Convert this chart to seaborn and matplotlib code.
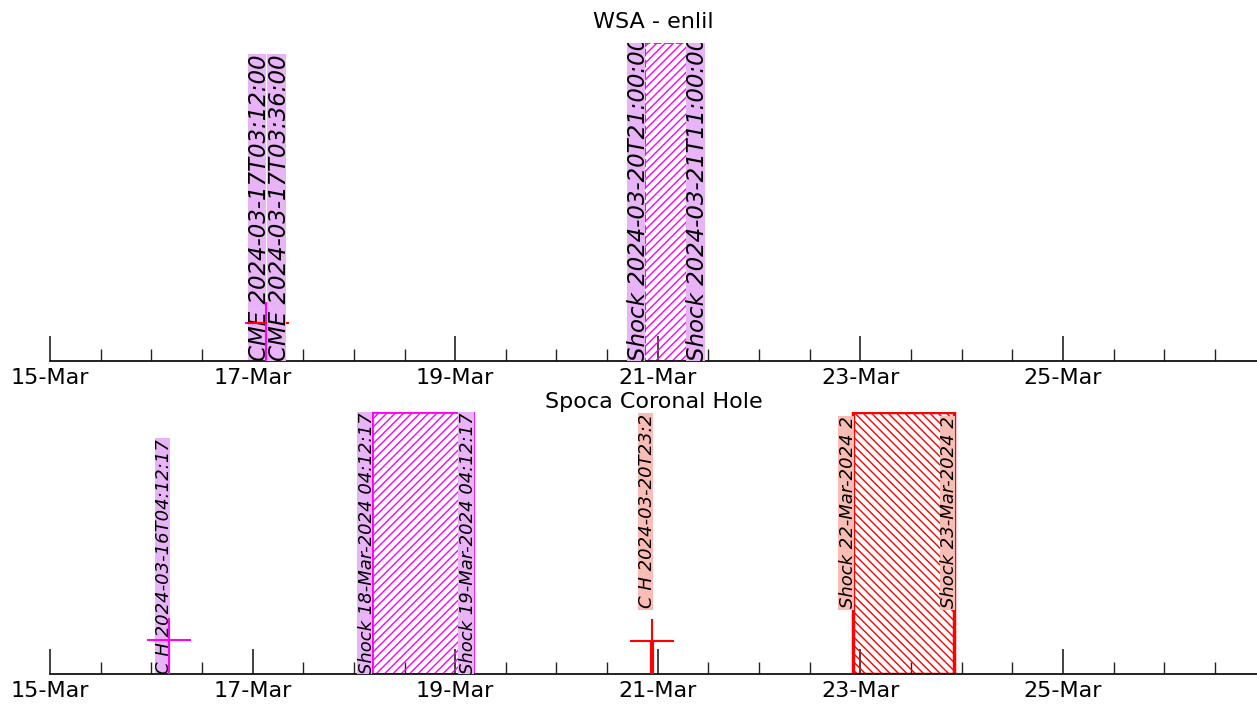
import matplotlib
matplotlib.use("Agg")
import numpy as np
import pandas as pd
import seaborn as sns
import matplotlib.pyplot as plt
import matplotlib.dates as mdates
from matplotlib.patches import Rectangle
from matplotlib.transforms import IdentityTransform

# ---------------- data ----------------
x_start = "2024-03-15 00:00:00"
x_end = "2024-03-26 22:00:00"

# top panel: WSA - enlil
top_cme_times = ["2024-03-17 03:12:00", "2024-03-17 03:36:00"]
top_cme_labels = ["CME 2024-03-17T03:12:00", "CME 2024-03-17T03:36:00"]
top_cme_colors = ["magenta", "red"]
top_cme_heights = [0.12, 0.12]

top_shock_times = ["2024-03-20 21:00:00", "2024-03-21 11:00:00"]
top_shock_labels = ["Shock 2024-03-20T21:00:00", "Shock 2024-03-21T11:00:00"]

# bottom panel: Spoca Coronal Hole
ch_times = ["2024-03-16 04:12:17", "2024-03-20 22:40:00"]
ch_labels = ["C H 2024-03-16T04:12:17", "C H 2024-03-20T23:2"]
ch_colors = ["magenta", "red"]
ch_heights = [0.13, 0.126]
ch_label_y = [0.0, 0.25]

shock_a_times = ["2024-03-18 04:12:17", "2024-03-19 04:12:17"]
shock_a_labels = ["Shock 18-Mar-2024 04:12:17", "Shock 19-Mar-2024 04:12:17"]
shock_b_times = ["2024-03-22 22:15:00", "2024-03-23 22:15:00"]
shock_b_labels = ["Shock 22-Mar-2024 2", "Shock 23-Mar-2024 2"]
shock_b_label_y = [0.25, 0.25]

VIOLET = "#E9B4F7"
SALMON = "#F9BDB5"

sns.set_theme(style="white")
plt.rcParams["font.family"] = ["DejaVu Sans"]
plt.rcParams["hatch.linewidth"] = 1.0

W, H = 1257, 707
DPI = 100
fig = plt.figure(figsize=(W / DPI, H / DPI), dpi=DPI)
ax1 = fig.add_axes([50 / W, 1 - 361 / H, 1 - 50 / W, (361 - 43) / H])
ax2 = fig.add_axes([50 / W, 1 - 674 / H, 1 - 50 / W, (674 - 412) / H])

T = pd.to_datetime
boxed = []


def style_axis(ax):
    ax.set_xlim(T(x_start), T(x_end))
    ax.set_ylim(0, 1)
    for s in ["left", "right", "top"]:
        ax.spines[s].set_visible(False)
    ax.spines["bottom"].set_color("#111111")
    ax.spines["bottom"].set_linewidth(1.3)
    ax.set_yticks([])
    ax.set_xlabel("")
    ax.set_ylabel("")
    ax.xaxis.set_major_locator(mdates.DayLocator(bymonthday=range(1, 32, 2)))
    ax.xaxis.set_minor_locator(mdates.HourLocator(byhour=[0, 12]))
    ax.xaxis.set_major_formatter(mdates.DateFormatter("%d-%b"))
    ax.tick_params(axis="x", which="major", direction="in", length=18,
                   width=1.2, color="#222222", labelsize=16, pad=5,
                   labelcolor="black", bottom=True)
    ax.tick_params(axis="x", which="minor", direction="in", length=8.5,
                   width=1.0, color="#222222", bottom=True)


def label(ax, t, s, y, side, fc, size, z):
    # side="left": text sits left of the time; "right": right of it
    va = "baseline" if side == "left" else "top"
    txt = ax.text(T(t), y, s, rotation=90, rotation_mode="anchor",
                  ha="left", va=va, fontsize=size, style="italic",
                  color="black", zorder=z, clip_on=True)
    boxed.append((ax, txt, fc, size, z))


# ---------------- top panel ----------------
ax = ax1
ax.axvspan(T(top_shock_times[0]), T(top_shock_times[1]), facecolor="none",
           edgecolor="magenta", hatch="////", linestyle="--", linewidth=1.5,
           zorder=1)
label(ax, top_shock_times[0], top_shock_labels[0], 0, "left", VIOLET, 16.5, 3)
label(ax, top_shock_times[1], top_shock_labels[1], 0, "left", VIOLET, 16.5, 3)

label(ax, top_cme_times[0], top_cme_labels[0], 0, "left", VIOLET, 16.5, 2)
cme_df = pd.DataFrame({"t": T(top_cme_times), "h": top_cme_heights,
                       "c": top_cme_colors})
for _, r in cme_df.iterrows():
    ax.vlines(r["t"], 0, r["h"], color=r["c"], lw=1.5, zorder=3)
sns.scatterplot(data=cme_df, x="t", y="h", hue="c",
                palette={"magenta": "magenta", "red": "red"},
                marker="+", s=900, linewidth=1.5, legend=False, ax=ax, zorder=3)
label(ax, top_cme_times[1], top_cme_labels[1], 0, "right", VIOLET, 16.5, 4)

style_axis(ax)
ax.set_title("WSA - enlil", fontsize=16, pad=11, color="black")

# ---------------- bottom panel ----------------
ax = ax2
ax.axvspan(T(shock_a_times[0]), T(shock_a_times[1]), facecolor="none",
           edgecolor="magenta", hatch="////", linewidth=2, zorder=1)
for t, s in zip(shock_a_times, shock_a_labels):
    label(ax, t, s, 0, "left", VIOLET, 13, 3)

ax.axvspan(T(shock_b_times[0]), T(shock_b_times[1]), facecolor="none",
           edgecolor="red", hatch="\\\\\\\\", linewidth=2.5, zorder=1)
for t, s, y in zip(shock_b_times, shock_b_labels, shock_b_label_y):
    label(ax, t, s, y, "left", SALMON, 13, 3)

for t, s, y, c in zip(ch_times, ch_labels, ch_label_y, ch_colors):
    label(ax, t, s, y, "left", VIOLET if c == "magenta" else SALMON, 13, 2)

ch_df = pd.DataFrame({"t": T(ch_times), "h": ch_heights, "c": ch_colors})
for (_, r), lw in zip(ch_df.iterrows(), [1.5, 3]):
    ax.vlines(r["t"], 0, r["h"], color=r["c"], lw=lw, zorder=4)
sns.scatterplot(data=ch_df, x="t", y="h", hue="c",
                palette={"magenta": "magenta", "red": "red"},
                marker="+", s=1000, linewidth=1.5, legend=False, ax=ax, zorder=4)

style_axis(ax)
ax.set_title("Spoca Coronal Hole", fontsize=16, pad=3, color="black")

# ---------------- tight background boxes behind the rotated labels ----------------
fig.canvas.draw()
renderer = fig.canvas.get_renderer()
for ax, txt, fc, size, z in boxed:
    ext = txt.get_window_extent(renderer)
    em = size * DPI / 72.0
    x0 = ext.x0 - 0.5
    w = 0.76 * em + 1.5
    rect = Rectangle((x0, ext.y0 - 1), w, ext.height + 2,
                     transform=IdentityTransform(), facecolor=fc,
                     edgecolor="none", zorder=z - 0.01)
    ax.add_patch(rect)

fig.savefig("out.png", dpi=DPI)
